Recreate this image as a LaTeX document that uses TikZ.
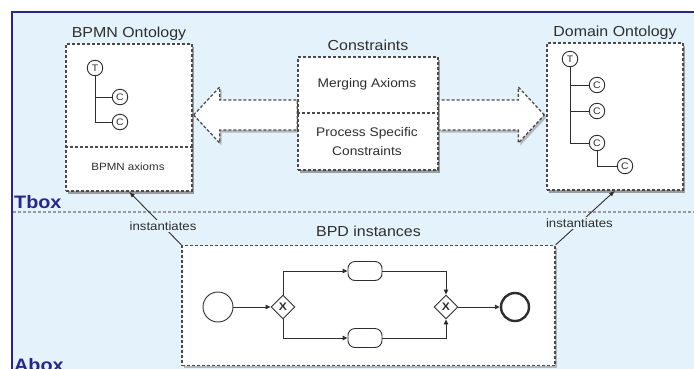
\documentclass[tikz,border=0pt]{standalone}
\usepackage{fontspec}
\setmainfont[FakeStretch=1.1]{Liberation Sans}
\usetikzlibrary{arrows.meta,shadows,shapes.geometric,calc}

\definecolor{panel}{HTML}{E4F3FB}
\definecolor{navy}{HTML}{26268C}
\definecolor{ink}{HTML}{2E2E2E}
\definecolor{dashgray}{HTML}{4A4A4A}
\definecolor{sepgray}{HTML}{9A9A9A}

\tikzset{
  shade/.style={drop shadow={shadow xshift=2pt, shadow yshift=-2.5pt, opacity=0.5}},
  dbox/.style={rectangle, draw=dashgray, dash pattern=on 3pt off 2pt, line width=1.3pt,
    fill=white, shade, inner sep=0pt},
  blockarrow/.style={draw=dashgray, dash pattern=on 3pt off 2pt, line width=1.3pt,
    fill=white, shade, line join=miter},
  divider/.style={draw=dashgray, dash pattern=on 3pt off 2pt, line width=1.3pt},
  title/.style={text=ink, font=\fontsize{14.5}{17}\selectfont, anchor=base, inner sep=0pt},
  inner/.style={text=ink, font=\fontsize{12.5}{17}\selectfont, align=center, inner sep=0pt},
  small/.style={text=ink, font=\fontsize{10.5}{13}\selectfont, inner sep=0pt},
  tc/.style={circle, draw=ink, line width=0.9pt, fill=white, minimum size=15.5pt, inner sep=0pt,
    font=\fontsize{9.5}{10}\selectfont, text=ink},
  tree/.style={draw=ink, line width=0.9pt},
  boxlabel/.style={text=navy, font=\bfseries\fontsize{18}{20}\selectfont, anchor=base west, inner sep=0pt},
  inst/.style={draw=ink, line width=0.9pt, -{Latex[length=6pt,width=4.5pt]}},
  instlabel/.style={text=ink, fill=panel, inner sep=1.5pt, font=\fontsize{12}{14}\selectfont},
  flow/.style={draw=ink, line width=0.9pt, -{Triangle[length=5pt,width=4.5pt]}},
  event/.style={circle, draw=ink, fill=white, line width=0.9pt, minimum size=30pt, inner sep=0pt},
  endevent/.style={event, line width=2.4pt, minimum size=28pt},
  gateway/.style={diamond, draw=ink, fill=white, line width=0.9pt, minimum width=24pt,
    minimum height=24pt, inner sep=0pt, font=\bfseries\fontsize{11}{11}\selectfont, text=ink},
  task/.style={rectangle, rounded corners=7pt, draw=ink, fill=white, line width=0.9pt,
    minimum width=34pt, minimum height=19pt, inner sep=0pt},
}

\begin{document}
\begin{tikzpicture}[x=1pt,y=-1pt]
  \useasboundingbox (0,0) rectangle (694,368);

  % knowledge base panel
  \fill[panel] (12,12) rectangle (700,372);
  \draw[navy, line width=2pt] (12,372) -- (12,12) -- (700,12);

  % Tbox / Abox separator
  \draw[sepgray, dash pattern=on 3pt off 2pt, line width=1.2pt] (13,212) -- (694,212);
  \node[boxlabel] (tbox) at (14,208) {Tbox};
  \node[boxlabel] (abox) at (14,371) {Abox};

  % ontology and constraint boxes (drawn later, positions needed first)
  \path
    (129,117.5) node[dbox, minimum width=126pt, minimum height=147pt] (bpmn) {}
    (368,113.5) node[dbox, minimum width=140pt, minimum height=113pt] (cons) {}
    (615,116.5) node[dbox, minimum width=136pt, minimum height=147pt] (dom) {};

  % block arrows from the constraints to both ontologies
  \coordinate (ltip)  at ($(bpmn.east)+(1,-2.5)$);
  \coordinate (lbase) at ($(cons.west)+(0,1.5)$);
  \coordinate (rtip)  at ($(dom.west)+(-2,-1.5)$);
  \coordinate (rbase) at ($(cons.east)+(0,1.5)$);
  \draw[blockarrow] (ltip) -- ++(26,-28) -- ++(0,13) -- ($(lbase)+(0,-15)$)
    -- ($(lbase)+(0,15)$) -- ($(ltip)+(26,15)$) -- ++(0,13) -- cycle;
  \draw[blockarrow] (rtip) -- ++(-26,-28) -- ++(0,13) -- ($(rbase)+(0,-15)$)
    -- ($(rbase)+(0,15)$) -- ($(rtip)+(-26,15)$) -- ++(0,13) -- cycle;

  % boxes on top of the arrows
  \node[dbox, minimum width=126pt, minimum height=147pt] at (bpmn) {};
  \node[dbox, minimum width=140pt, minimum height=113pt] at (cons) {};
  \node[dbox, minimum width=136pt, minimum height=147pt] at (dom) {};

  % titles
  \node[title] (bpmntitle) at ($(bpmn.north)+(0,-6)$) {BPMN Ontology};
  \node[title] (constitle) at ($(cons.north)+(0,-6)$) {Constraints};
  \node[title] (domtitle)  at ($(dom.north)+(0,-6)$)  {Domain Ontology};

  % BPMN ontology content
  \draw[divider] ($(bpmn.west)+(0,29.5)$) -- ($(bpmn.east)+(0,29.5)$);
  \node[small] (bpmnax) at (128,167) {BPMN axioms};
  \node[tc] (bt)  at (95,68)  {T};
  \node[tc] (bc1) at (120,97) {C};
  \node[tc] (bc2) at (120,122) {C};
  \draw[tree] (bt) -- (bt |- bc2) -- (bc2);
  \draw[tree] (bt |- bc1) -- (bc1);

  % constraints content
  \draw[divider] ($(cons.west)+(0,-0.5)$) -- ($(cons.east)+(0,-0.5)$);
  \node[inner] (merge) at (367,84) {Merging Axioms};
  \node[inner] (psc) at (367,142) {Process Specific\\[2pt]Constraints};

  % domain ontology content
  \node[tc] (dt)  at (570,59)  {T};
  \node[tc] (dc1) at (597,85)  {C};
  \node[tc] (dc2) at (597,111) {C};
  \node[tc] (dc3) at (597,143) {C};
  \node[tc] (dc4) at (625,166) {C};
  \draw[tree] (dt) -- (dt |- dc3) -- (dc3);
  \draw[tree] (dt |- dc1) -- (dc1);
  \draw[tree] (dt |- dc2) -- (dc2);
  \draw[tree] (dc3) -- (dc3 |- dc4) -- (dc4);

  % BPD instances
  \node[dbox, minimum width=373pt, minimum height=120pt] (bpd) at (368.5,305.5) {};
  \node[title] (bpdtitle) at ($(bpd.north)+(0,-8)$) {BPD instances};

  \node[event]    (start) at (218,307) {};
  \node[gateway]  (gw1)   at (283,307) {X};
  \node[task]     (t1)    at (365,271) {};
  \node[task]     (t2)    at (365,338) {};
  \node[gateway]  (gw2)   at (446,307) {X};
  \node[endevent] (stop)  at (515,307) {};

  \draw[flow] (start) -- (gw1);
  \draw[flow] (gw1.north) |- (t1.west);
  \draw[flow] (gw1.south) |- (t2.west);
  \draw[flow] (t1.east) -| (gw2.north);
  \draw[flow] (t2.east) -| (gw2.south);
  \draw[flow] (gw2) -- (stop);

  % instantiation links
  \draw[inst] (bpd.north west) -- node[pos=0.35, instlabel] {instantiates} (bpmn.south);
  \draw[inst] (bpd.north east) -- node[pos=0.4, instlabel] {instantiates} (dom.south);
\end{tikzpicture}
\end{document}
